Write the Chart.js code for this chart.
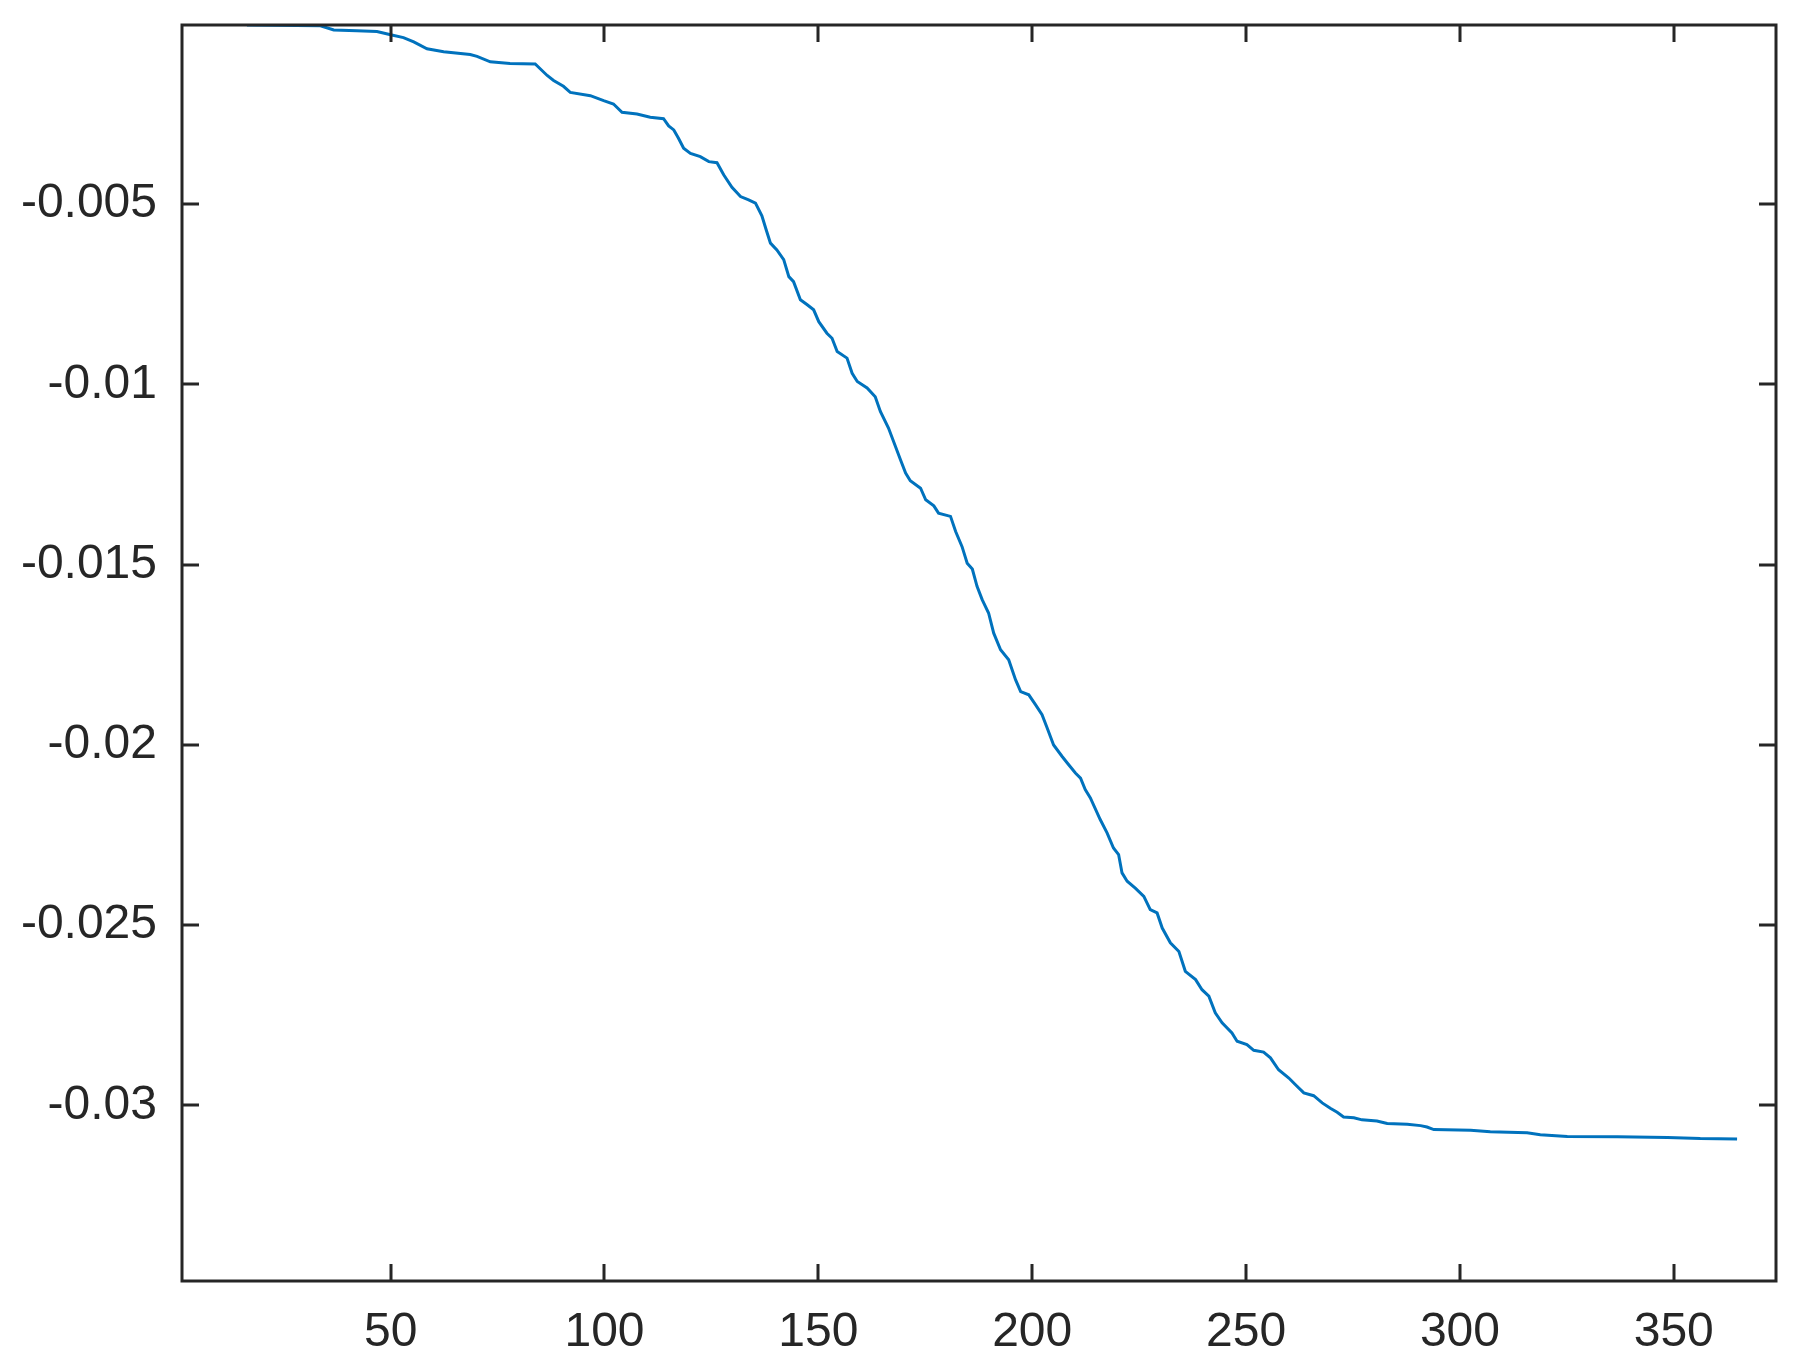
<!DOCTYPE html>
<html>
<head>
<meta charset="utf-8">
<script src="https://cdn.jsdelivr.net/npm/chart.js@4/dist/chart.umd.min.js"></script>
<style>
  html, body { margin: 0; padding: 0; background: #ffffff; }
  #wrap { width: 1809px; height: 1367px; }
</style>
</head>
<body>
<div id="wrap"><canvas id="c" width="1809" height="1367"></canvas></div>
<script>
const xValues = [16.4, 33.6, 36.7, 42.1, 46.8, 50.0, 53.0, 55.4, 58.5, 62.4, 68.6, 70.2, 73.3, 77.9, 83.8, 86.6, 88.1, 90.4, 92.0, 96.7,
  99.8, 102.1, 104.1, 107.6, 110.7, 113.8, 115.0, 116.2, 117.3, 118.5, 120.1, 122.4, 124.4, 126.3, 127.9, 129.8, 131.8, 133.7, 135.3, 136.8,
  137.8, 138.8, 140.3, 141.9, 143.1, 144.2, 145.8, 147.4, 148.9, 150.1, 152.0, 153.2, 154.4, 156.7, 157.9, 159.1, 161.4, 163.3, 164.5, 166.4,
  169.2, 170.4, 171.5, 173.9, 175.1, 177.0, 178.1, 180.9, 182.1, 183.6, 184.8, 186.0, 187.1, 188.3, 189.8, 191.0, 192.6, 194.5, 196.1, 197.3,
  199.2, 200.8, 202.3, 203.5, 205.0, 207.0, 208.2, 210.1, 211.3, 212.4, 213.6, 215.9, 217.5, 219.0, 220.2, 221.0, 222.2, 224.1, 226.1, 227.6,
  229.2, 230.4, 232.3, 234.3, 235.8, 238.2, 239.7, 241.3, 242.8, 244.4, 246.7, 247.9, 250.2, 251.8, 254.1, 255.7, 257.6, 260.0, 261.5, 263.5,
  265.8, 267.8, 269.7, 271.3, 272.8, 275.2, 277.1, 280.6, 283.0, 287.7, 290.8, 292.3, 293.9, 302.5, 307.1, 315.7, 318.8, 325.1, 336.8, 348.5,
  356.2, 364.8];
const yValues = [-0.00003, -0.00005, -0.00017, -0.00019, -0.00021, -0.0003, -0.00038, -0.0005, -0.00069, -0.00077, -0.00085, -0.0009, -0.00105, -0.0011, -0.00111, -0.00143, -0.00157, -0.00173, -0.0019, -0.00199,
  -0.00213, -0.00222, -0.00245, -0.0025, -0.00259, -0.00263, -0.00283, -0.00294, -0.00317, -0.00345, -0.00359, -0.00368, -0.00382, -0.00385, -0.00419, -0.00453, -0.00479, -0.00488, -0.00497, -0.00532,
  -0.00571, -0.00608, -0.00627, -0.00654, -0.00701, -0.00715, -0.00765, -0.00779, -0.00793, -0.00826, -0.00858, -0.00872, -0.00909, -0.00927, -0.00969, -0.00992, -0.0101, -0.01034, -0.01075, -0.01121,
  -0.01209, -0.01246, -0.01267, -0.01288, -0.0132, -0.01337, -0.01357, -0.01366, -0.01408, -0.0145, -0.01496, -0.01512, -0.0156, -0.01597, -0.01634, -0.0169, -0.01736, -0.01764, -0.01819, -0.01852,
  -0.01861, -0.01889, -0.01916, -0.01953, -0.02, -0.02032, -0.0205, -0.02078, -0.02092, -0.02124, -0.02147, -0.02207, -0.02244, -0.02286, -0.02304, -0.02355, -0.02378, -0.02397, -0.0242, -0.02457,
  -0.02466, -0.02508, -0.02549, -0.02573, -0.02628, -0.02651, -0.02679, -0.02697, -0.02743, -0.02771, -0.02799, -0.02822, -0.02831, -0.02847, -0.02852, -0.02868, -0.02901, -0.02924, -0.02942, -0.02965,
  -0.02973, -0.02993, -0.03008, -0.03019, -0.03032, -0.03034, -0.0304, -0.03043, -0.0305, -0.03052, -0.03056, -0.0306, -0.03067, -0.03069, -0.03073, -0.03076, -0.03081, -0.03086, -0.03087, -0.03089,
  -0.03092, -0.03093];

const xTickValues = [50, 100, 150, 200, 250, 300, 350];
const xTickLabels = ['50', '100', '150', '200', '250', '300', '350'];
const yTickValues = [-0.03, -0.025, -0.02, -0.015, -0.01, -0.005];
const yTickLabels = ['-0.03', '-0.025', '-0.02', '-0.015', '-0.01', '-0.005'];

const AXIS_COLOR = '#262626';
const FONT = { family: "'Liberation Sans', Arial, sans-serif", size: 48 };

const framePlugin = {
  id: 'frame',
  afterDatasetsDraw(chart) {
    const { ctx, chartArea: a, scales } = chart;
    const tl = 17;
    ctx.save();
    ctx.strokeStyle = AXIS_COLOR;
    ctx.lineWidth = 3;
    ctx.beginPath();
    xTickValues.forEach(v => {
      const px = Math.round(scales.x.getPixelForValue(v));
      ctx.moveTo(px, a.bottom); ctx.lineTo(px, a.bottom - tl);
      ctx.moveTo(px, a.top); ctx.lineTo(px, a.top + tl);
    });
    yTickValues.forEach(v => {
      const py = Math.round(scales.y.getPixelForValue(v));
      ctx.moveTo(a.left, py); ctx.lineTo(a.left + tl, py);
      ctx.moveTo(a.right, py); ctx.lineTo(a.right - tl, py);
    });
    ctx.stroke();
    ctx.strokeRect(a.left, a.top, a.right - a.left, a.bottom - a.top);
    ctx.restore();
  }
};

new Chart(document.getElementById('c'), {
  type: 'line',
  data: {
    datasets: [{
      data: xValues.map((x, i) => ({ x: x, y: yValues[i] })),
      borderColor: '#0072BD',
      borderWidth: 3,
      pointRadius: 0,
      tension: 0,
      fill: false
    }]
  },
  options: {
    responsive: false,
    animation: false,
    events: [],
    layout: { padding: { top: 25, right: 33, left: 0, bottom: 0 } },
    plugins: { legend: { display: false }, tooltip: { enabled: false } },
    scales: {
      x: {
        type: 'linear',
        min: 1.22,
        max: 373.9,
        grid: { display: false, drawTicks: false },
        border: { display: false },
        afterBuildTicks: s => { s.ticks = xTickValues.map(v => ({ value: v })); },
        afterFit: s => { s.height = 86; s.paddingLeft = 0; s.paddingRight = 0; },
        ticks: {
          autoSkip: false, maxRotation: 0, minRotation: 0,
          color: AXIS_COLOR, font: FONT, padding: 23,
          callback: (v) => { const i = xTickValues.indexOf(v); return i >= 0 ? xTickLabels[i] : ''; }
        }
      },
      y: {
        type: 'linear',
        min: -0.03487,
        max: -0.00003,
        grid: { display: false, drawTicks: false },
        border: { display: false },
        afterBuildTicks: s => { s.ticks = yTickValues.map(v => ({ value: v })); },
        afterFit: s => { s.width = 182; s.paddingTop = 0; s.paddingBottom = 0; },
        ticks: {
          autoSkip: false,
          color: AXIS_COLOR, font: FONT, padding: 25,
          callback: (v) => { const i = yTickValues.findIndex(t => Math.abs(t - v) < 1e-9); return i >= 0 ? yTickLabels[i] : ''; }
        }
      }
    }
  },
  plugins: [framePlugin]
});
</script>
</body>
</html>
